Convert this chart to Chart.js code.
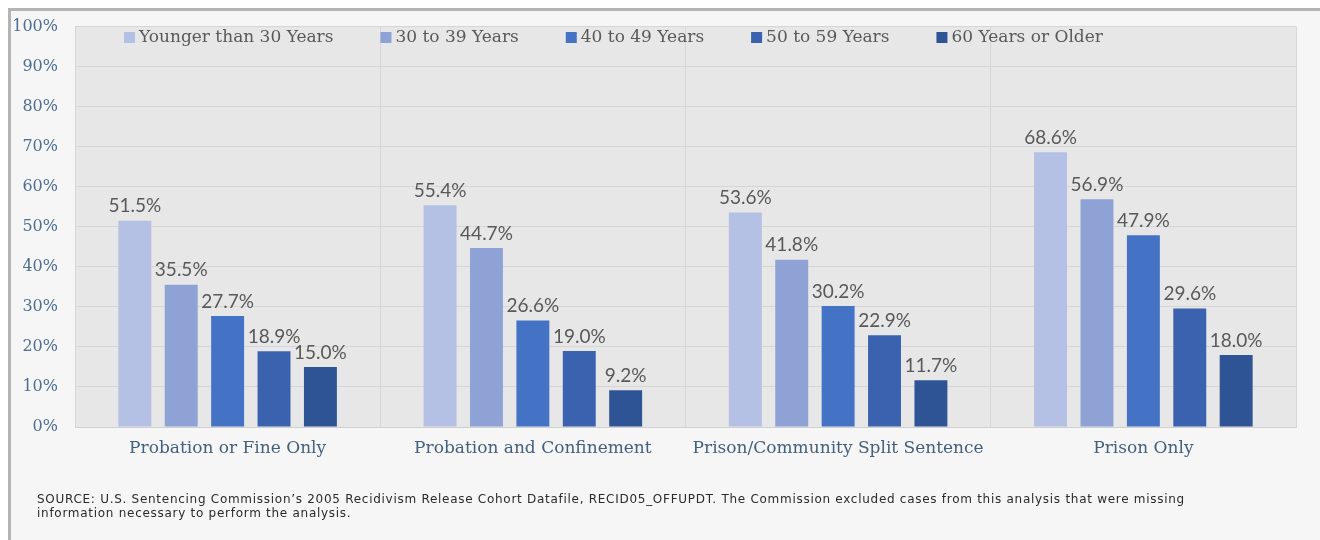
<!DOCTYPE html>
<html>
<head>
<meta charset="utf-8">
<script src="https://cdn.jsdelivr.net/npm/chart.js@4.4.1/dist/chart.umd.min.js"></script>
<style>
  body { margin: 0; background: #ffffff; }
  #wrap { position: relative; width: 1320px; height: 540px; overflow: hidden; }
  #frame { position: absolute; left: 8px; top: 8px; right: 0; bottom: 0;
           background: #f6f6f6; border-top: 3px solid #b4b4b4; border-left: 3px solid #b4b4b4; }
  #source { position: absolute; left: 37px; top: 492px; width: 1260px;
            font-family: "DejaVu Sans", sans-serif; font-size: 12px; letter-spacing: 0.72px;
            line-height: 14px; color: #2a2a2a; }
  canvas { position: absolute; left: 0; top: 0; }
</style>
</head>
<body>
<div id="wrap">
  <div id="frame"></div>
  <canvas id="recid" width="1320" height="540"></canvas>
  <div id="source">SOURCE: U.S. Sentencing Commission’s 2005 Recidivism Release Cohort Datafile, RECID05_OFFUPDT. The Commission excluded cases from this analysis that were missing<br>information necessary to perform the analysis.</div>
</div>
<script>
const categories = ['Probation or Fine Only', 'Probation and Confinement', 'Prison/Community Split Sentence', 'Prison Only'];
const age_groups = ['Younger than 30 Years', '30 to 39 Years', '40 to 49 Years', '50 to 59 Years', '60 Years or Older'];
const under_30 = [51.5, 55.4, 53.6, 68.6];
const age_30_39 = [35.5, 44.7, 41.8, 56.9];
const age_40_49 = [27.7, 26.6, 30.2, 47.9];
const age_50_59 = [18.9, 19.0, 22.9, 29.6];
const age_60_up = [15.0, 9.2, 11.7, 18.0];
const y_ticks = [0, 10, 20, 30, 40, 50, 60, 70, 80, 90, 100];

const colors = ['#b4c0e4', '#8fa2d5', '#4472c4', '#3a62ae', '#2f5496'];
const series = [under_30, age_30_39, age_40_49, age_50_59, age_60_up];

// plot background
const plot_bg = {
  id: 'plot_bg',
  beforeDraw(chart) {
    const a = chart.chartArea;
    const ctx = chart.ctx;
    ctx.save();
    ctx.fillStyle = '#e7e7e7';
    ctx.fillRect(a.left, a.top, a.right - a.left, a.bottom - a.top);
    ctx.restore();
  }
};

// value labels above bars
const bar_labels = {
  id: 'bar_labels',
  afterDatasetsDraw(chart) {
    const ctx = chart.ctx;
    ctx.save();
    ctx.font = '19px Lato, sans-serif';
    ctx.fillStyle = '#595959';
    ctx.textAlign = 'center';
    ctx.textBaseline = 'bottom';
    chart.data.datasets.forEach((ds, i) => {
      chart.getDatasetMeta(i).data.forEach((bar, j) => {
        ctx.fillText(ds.data[j].toFixed(1) + '%', bar.x, bar.y - 5);
      });
    });
    ctx.restore();
  }
};

// legend drawn inside the plot area
const inside_legend = {
  id: 'inside_legend',
  afterDraw(chart) {
    const ctx = chart.ctx;
    ctx.save();
    ctx.font = '17px "DejaVu Serif", serif';
    ctx.textBaseline = 'middle';
    let x = 124;
    const y = 38;
    chart.data.datasets.forEach(ds => {
      ctx.fillStyle = ds.backgroundColor;
      ctx.fillRect(x, y - 6, 11, 11);
      ctx.fillStyle = '#595959';
      ctx.fillText(ds.label, x + 15, y);
      x += 15 + ctx.measureText(ds.label).width + 47;
    });
    ctx.restore();
  }
};

const recid_chart = document.getElementById('recid');

new Chart(recid_chart, {
  type: 'bar',
  data: {
    labels: categories,
    datasets: series.map((d, i) => ({
      label: age_groups[i],
      data: d,
      backgroundColor: colors[i],
      categoryPercentage: 0.76,
      barPercentage: 0.71
    }))
  },
  options: {
    responsive: false,
    animation: false,
    devicePixelRatio: 1,
    layout: {
      padding: { left: 0, right: 24, top: 25, bottom: 0 }
    },
    scales: {
      x: {
        grid: { color: '#d6d6d6', offset: true, drawTicks: false },
        border: { color: '#d0d0d0' },
        ticks: {
          color: '#44607f',
          font: { family: '"DejaVu Serif", serif', size: 17 },
          padding: 11
        },
        afterFit(scale) { scale.height = 113; }
      },
      y: {
        min: 0,
        max: 100,
        afterBuildTicks(scale) { scale.ticks = y_ticks.map(v => ({ value: v })); },
        grid: { color: '#d6d6d6', drawTicks: false },
        border: { display: false },
        ticks: {
          color: '#4f6f92',
          font: { family: '"DejaVu Serif", serif', size: 16 },
          padding: 17,
          callback: v => v + '%'
        },
        afterFit(scale) { scale.width = 75; }
      }
    },
    plugins: {
      legend: { display: false },
      tooltip: { enabled: false }
    }
  },
  plugins: [plot_bg, bar_labels, inside_legend]
});
</script>
</body>
</html>
